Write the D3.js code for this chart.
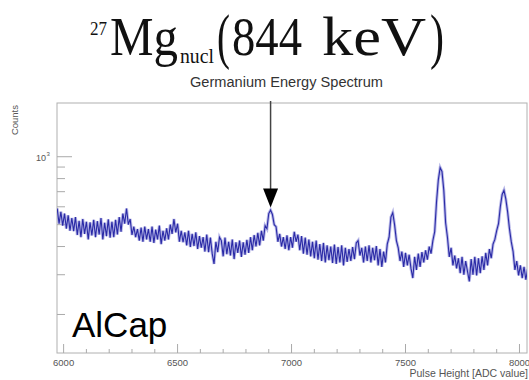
<!DOCTYPE html>
<html>
<head>
<meta charset="utf-8">
<script src="https://cdn.jsdelivr.net/npm/d3@7"></script>
<style>
  body { margin: 0; background: #fff; }
  svg { display: block; }
</style>
</head>
<body>
<div id="chart"></div>
<script>
// histogram: first bin centre and bin width in ADC units
const binStart = 5972;
const binWidth = 8;
const counts = [
  590, 505, 570, 495, 560, 480, 550, 470, 535, 468,
  540, 450, 520, 440, 530, 455, 515, 430, 512, 448,
  525, 440, 518, 452, 535, 430, 510, 445, 528, 438,
  515, 440, 525, 452, 540, 465, 560, 505, 590, 500,
  530, 450, 490, 440, 478, 425, 485, 420, 490, 430,
  478, 420, 490, 415, 475, 430, 495, 410, 470, 425,
  482, 430, 500, 455, 530, 462, 505, 420, 470, 418,
  462, 405, 470, 398, 455, 402, 462, 390, 445, 395,
  440, 380, 452, 378, 438, 372, 335, 420, 378, 440,
  425, 362, 438, 370, 420, 365, 430, 352, 418, 375,
  425, 360, 418, 368, 428, 375, 440, 385, 450, 400,
  460, 405, 470, 425, 495, 480, 560, 580, 555, 500,
  490, 420, 455, 400, 440, 390, 448, 385, 440, 395,
  465, 420, 452, 385, 445, 372, 438, 368, 430, 362,
  420, 355, 425, 350, 410, 345, 415, 340, 405, 348,
  400, 338, 408, 335, 398, 340, 405, 330, 395, 342,
  390, 345, 398, 352, 415, 425, 365, 395, 340, 400,
  345, 405, 340, 395, 348, 402, 330, 390, 325, 380,
  340, 410, 440, 540, 565, 500, 425, 395, 345, 380,
  325, 375, 330, 368, 320, 290, 360, 315, 372, 325,
  378, 340, 385, 350, 400, 372, 425, 465, 630, 790,
  895, 860, 710, 510, 440, 360, 395, 330, 365, 320,
  355, 305, 360, 300, 345, 310, 280, 352, 300, 360,
  298, 355, 305, 362, 315, 375, 330, 390, 355, 410,
  430, 470, 505, 600, 680, 710, 650, 570, 480, 420,
  380, 315, 345, 298, 330, 290, 325, 285, 318
];
const xTicksMajor = [6000, 6500, 7000, 7500, 8000];
const yTicksMinor = [200, 300, 400, 500, 600, 700, 800, 900];
const arrowAdc = 6908;

const W = 529, H = 380;
const pLeft = 57, pRight = 527, pTop = 103, pBottom = 353;

const svg = d3.select("#chart").append("svg")
    .attr("width", W)
    .attr("height", H);

const x = d3.scaleLinear().domain([5971, 8033]).range([pLeft, pRight]);
const y = d3.scaleLog().domain([135, 1730]).range([pBottom, pTop]);

// title: one text, pieces as tspans (superscript, subscript, brackets)
const serif = "'Liberation Serif', 'Times New Roman', serif";
const titleParts = [
  { t: "27",   x: 90,  y: 35, size: 19, len: 17 },
  { t: "Mg",   x: 110, y: 55, size: 54, len: 68 },
  { t: "nucl", x: 180, y: 63, size: 22, len: 34 },
  { t: "(",    x: 217, y: 57, size: 62, len: 13 },
  { t: "844",  x: 232, y: 55, size: 54, len: 70 },
  { t: "keV",  x: 322, y: 55, size: 54, len: 104 },
  { t: ")",    x: 430, y: 57, size: 62, len: 14 }
];
svg.append("text")
    .attr("font-family", serif)
    .attr("fill", "#111")
    .selectAll("tspan")
    .data(titleParts)
    .enter()
    .append("tspan")
    .attr("x", d => d.x)
    .attr("y", d => d.y)
    .attr("font-size", d => d.size)
    .attr("textLength", d => d.len)
    .attr("lengthAdjust", "spacingAndGlyphs")
    .text(d => d.t);

const sans = "'Liberation Sans', Arial, sans-serif";
svg.append("text")
    .attr("x", 190).attr("y", 87)
    .attr("font-family", sans).attr("font-size", 14)
    .attr("textLength", 193).attr("lengthAdjust", "spacingAndGlyphs")
    .attr("fill", "#333")
    .text("Germanium Energy Spectrum");

// frame
svg.append("rect")
    .attr("x", pLeft).attr("y", pTop)
    .attr("width", pRight - pLeft).attr("height", pBottom - pTop)
    .attr("fill", "none")
    .attr("stroke", "#b0b0b0")
    .attr("stroke-width", 1);

// x ticks
const xMinor = d3.range(6000, 8001, 100);
svg.selectAll("line.xminor")
    .data(xMinor)
    .enter()
    .append("line")
    .attr("x1", d => x(d)).attr("x2", d => x(d))
    .attr("y1", pBottom).attr("y2", d => xTicksMajor.includes(d) ? pBottom - 9 : pBottom - 4)
    .attr("stroke", "#aaa");

svg.selectAll("text.xlab")
    .data(xTicksMajor)
    .enter()
    .append("text")
    .attr("x", d => x(d)).attr("y", 366)
    .attr("text-anchor", "middle")
    .attr("font-family", sans).attr("font-size", 9.5)
    .attr("fill", "#555")
    .text(d => d);

svg.append("text")
    .attr("x", 528).attr("y", 377)
    .attr("text-anchor", "end")
    .attr("font-family", sans).attr("font-size", 10.5)
    .attr("fill", "#555")
    .text("Pulse Height [ADC value]");

// y ticks
svg.append("line")
    .attr("x1", pLeft).attr("x2", pLeft + 15)
    .attr("y1", y(1000)).attr("y2", y(1000))
    .attr("stroke", "#aaa");
svg.selectAll("line.yminor")
    .data(yTicksMinor)
    .enter()
    .append("line")
    .attr("x1", pLeft).attr("x2", pLeft + 8)
    .attr("y1", d => y(d)).attr("y2", d => y(d))
    .attr("stroke", "#aaa");

svg.append("text")
    .attr("x", 46).attr("y", y(1000) + 4)
    .attr("text-anchor", "end")
    .attr("font-family", sans).attr("font-size", 9)
    .attr("fill", "#555")
    .text("10");
svg.append("text")
    .attr("x", 46.5).attr("y", y(1000) - 1)
    .attr("font-family", sans).attr("font-size", 6)
    .attr("fill", "#555")
    .text("3");

svg.append("text")
    .attr("transform", "translate(17.5,105) rotate(-90)")
    .attr("text-anchor", "end")
    .attr("font-family", sans).attr("font-size", 9.5)
    .attr("fill", "#555")
    .text("Counts");

// spectrum
svg.append("clipPath").attr("id", "plotclip")
    .append("rect")
    .attr("x", pLeft).attr("y", pTop)
    .attr("width", pRight - pLeft).attr("height", pBottom - pTop);

const line = d3.line()
    .x((d, i) => x(binStart + i * binWidth))
    .y(d => y(d));

const g = svg.append("g").attr("clip-path", "url(#plotclip)");
g.append("path")
    .attr("d", line(counts))
    .attr("fill", "none")
    .attr("stroke", "#8a8ad8")
    .attr("stroke-width", 3)
    .attr("stroke-opacity", 0.6);
g.append("path")
    .attr("d", line(counts))
    .attr("fill", "none")
    .attr("stroke", "#2a2aa6")
    .attr("stroke-width", 1.1);

// arrow marking the 844 keV line
const ax = x(arrowAdc);
const tip = y(595);
svg.append("line")
    .attr("x1", ax).attr("x2", ax)
    .attr("y1", 101).attr("y2", tip - 16)
    .attr("stroke", "#444")
    .attr("stroke-width", 1.5);
svg.append("path")
    .attr("d", `M${ax - 7.5},${tip - 19} L${ax + 7.5},${tip - 19} L${ax},${tip} Z`)
    .attr("fill", "#000");

svg.append("text")
    .attr("x", 72).attr("y", 337)
    .attr("font-family", sans).attr("font-size", 35)
    .attr("fill", "#000")
    .text("AlCap");
</script>
</body>
</html>
